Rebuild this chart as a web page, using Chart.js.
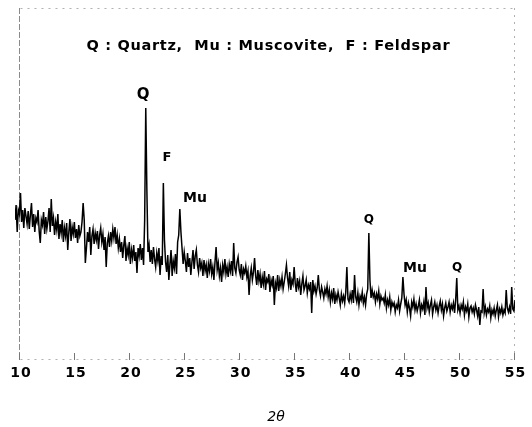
<!DOCTYPE html>
<html>
<head>
<meta charset="utf-8">
<script src="https://cdn.jsdelivr.net/npm/chart.js@4.4.0/dist/chart.umd.min.js"></script>
<style>
  html, body { margin: 0; padding: 0; background: #fff; }
  canvas { display: block; }
</style>
</head>
<body>
<canvas id="xrdChart" width="532" height="427"></canvas>
<script>
// scan grid (degrees 2θ) and counts, one row per degree
const startAngle = 9.5;
const stepAngle = 0.1;
const intensity = [
  140, 155, 128, 150, 146,
  167, 138, 150, 132, 152, 144, 136, 149, 131, 145,
  157, 133, 146, 128, 142, 138, 150, 129, 117, 140,
  135, 148, 126, 143, 131, 139, 152, 128, 161, 134,
  142, 125, 138, 130, 146, 121, 136, 127, 140, 118,
  132, 124, 137, 110, 128, 141, 119, 133, 126, 138,
  122, 131, 117, 135, 124, 128, 138, 157, 140, 97,
  112, 128, 118, 133, 105, 124, 131, 116, 127, 120,
  129, 111, 125, 132, 118, 126, 110, 123, 93, 117,
  124, 113, 128, 119, 131, 122, 133, 116, 125, 112,
  121, 108, 118, 102, 115, 124, 99, 112, 105, 118,
  96, 110, 102, 115, 99, 108, 87, 112, 104, 116,
  100, 112, 95, 140, 252, 170, 108, 115, 98, 110,
  96, 113, 101, 93, 107, 99, 112, 85, 104, 95,
  177, 120, 98, 88, 105, 80, 96, 110, 84, 99,
  92, 106, 86, 118, 125, 151, 128, 112, 96, 108,
  99, 88, 107, 93, 102, 85, 98, 110, 91, 104,
  110, 95, 88, 102, 92, 97, 84, 100, 89, 95,
  82, 96, 89, 101, 86, 93, 80, 98, 113, 90,
  97, 84, 92, 78, 95, 88, 101, 86, 93, 83,
  96, 89, 99, 84, 117, 92, 87, 98, 103, 90,
  85, 96, 80, 91, 87, 94, 83, 89, 65, 84,
  92, 80, 88, 102, 84, 75, 90, 79, 86, 72,
  83, 76, 89, 70, 81, 78, 86, 68, 80, 75,
  84, 55, 77, 72, 85, 69, 80, 74, 83, 71,
  78, 86, 95, 82, 74, 88, 70, 80, 76, 93,
  77, 68, 82, 73, 79, 65, 76, 84, 70, 74,
  80, 67, 75, 71, 78, 47, 80, 69, 74, 66,
  72, 85, 70, 64, 73, 68, 62, 71, 66, 74,
  63, 70, 58, 67, 61, 72, 56, 65, 60, 68,
  62, 55, 66, 59, 64, 57, 68, 93, 61, 58,
  66, 60, 70, 57, 85, 63, 58, 67, 55, 64,
  60, 68, 57, 63, 55, 66, 71, 127, 80, 62,
  70, 63, 67, 58, 66, 61, 69, 56, 64, 60,
  62, 57, 65, 52, 60, 55, 63, 50, 58, 54,
  57, 48, 55, 52, 60, 49, 56, 62, 83, 66,
  55, 60, 48, 57, 52, 44, 58, 53, 61, 50,
  56, 49, 54, 60, 47, 55, 51, 58, 45, 73,
  52, 57, 48, 55, 60, 46, 53, 58, 50, 55,
  47, 54, 59, 50, 56, 44, 52, 57, 49, 53,
  58, 48, 55, 51, 57, 47, 60, 82, 50, 54,
  47, 55, 51, 58, 45, 53, 49, 56, 43, 52,
  54, 48, 52, 46, 55, 50, 44, 53, 35, 49,
  48, 71, 47, 53, 45, 51, 48, 54, 42, 50,
  46, 52, 44, 50, 55, 43, 51, 47, 53, 45,
  50, 47, 70, 52, 48, 53, 46, 73, 51, 49,
  60
];
const tickAngles = [10, 15, 20, 25, 30, 35, 40, 45, 50, 55];

// phase labels: position given in data units (angle, intensity)
const peakLabels = [
  { angle: 21.15, value: 265, text: 'Q',  size: 15 },
  { angle: 23.33, value: 202, text: 'F',  size: 13 },
  { angle: 25.88, value: 162, text: 'Mu', size: 14 },
  { angle: 41.71, value: 140, text: 'Q',  size: 12 },
  { angle: 45.9,  value: 92,  text: 'Mu', size: 14 },
  { angle: 49.72, value: 92,  text: 'Q',  size: 12 }
];
const legendText = 'Q : Quartz,  Mu : Muscovite,  F : Feldspar';
const axisTitle = '2\u03b8';

const points = intensity.map((v, i) => ({ x: startAngle + i * stepAngle, y: v }));

// spaced-out text, centred on x
function spacedText(ctx, text, x, y, spacing) {
  ctx.letterSpacing = spacing + 'px';
  ctx.fillText(text, x + spacing / 2, y);
  ctx.letterSpacing = '0px';
}

const framePlugin = {
  id: 'frame',
  beforeDatasetsDraw(chart) {
    const { ctx, chartArea: a, scales } = chart;
    const x10 = scales.x.getPixelForValue(10);
    ctx.save();
    ctx.lineWidth = 1;
    ctx.strokeStyle = '#8a8a8a';
    ctx.setLineDash([6, 2]);
    ctx.beginPath();
    ctx.moveTo(Math.round(x10) - 0.5, a.top);
    ctx.lineTo(Math.round(x10) - 0.5, a.bottom);
    ctx.stroke();
    ctx.strokeStyle = '#b0b0b0';
    ctx.setLineDash([2, 5]);
    ctx.beginPath();
    ctx.moveTo(x10, a.top + 0.5);
    ctx.lineTo(a.right, a.top + 0.5);
    ctx.moveTo(a.right - 0.5, a.top);
    ctx.lineTo(a.right - 0.5, a.bottom);
    ctx.moveTo(x10, a.bottom - 0.5);
    ctx.lineTo(a.right, a.bottom - 0.5);
    ctx.stroke();
    ctx.setLineDash([]);
    ctx.strokeStyle = '#777';
    tickAngles.forEach(t => {
      const px = Math.round(scales.x.getPixelForValue(t)) - 0.5;
      ctx.beginPath();
      ctx.moveTo(px, a.bottom);
      ctx.lineTo(px, a.bottom - 7);
      ctx.stroke();
    });
    ctx.restore();
  },
  afterDraw(chart) {
    const { ctx, chartArea: a, scales } = chart;
    ctx.save();
    ctx.fillStyle = '#000';
    ctx.textAlign = 'center';
    ctx.textBaseline = 'middle';
    ctx.font = 'bold 14.5px "DejaVu Sans"';
    spacedText(ctx, legendText, (a.left + a.right) / 2 + 3, a.top + 38, 0.7);
    peakLabels.forEach(p => {
      ctx.font = 'bold ' + p.size + 'px "DejaVu Sans"';
      ctx.fillText(p.text, scales.x.getPixelForValue(p.angle), scales.y.getPixelForValue(p.value));
    });
    ctx.font = 'bold 14px "DejaVu Sans"';
    tickAngles.forEach(t => {
      spacedText(ctx, String(t), scales.x.getPixelForValue(t), a.bottom + 13, 1);
    });
    ctx.font = 'italic 14px "DejaVu Sans"';
    ctx.fillText(axisTitle, (a.left + a.right) / 2 + 11, 417);
    ctx.restore();
  }
};

new Chart(document.getElementById('xrdChart'), {
  type: 'line',
  data: {
    datasets: [{
      data: points,
      borderColor: '#000',
      borderWidth: 1.5,
      pointRadius: 0,
      tension: 0,
      fill: false
    }]
  },
  options: {
    responsive: false,
    animation: false,
    devicePixelRatio: 1,
    layout: { padding: { left: 15, right: 17, top: 8, bottom: 0 } },
    plugins: { legend: { display: false }, tooltip: { enabled: false } },
    scales: {
      x: {
        type: 'linear',
        min: 9.5,
        max: 55,
        afterBuildTicks: scale => { scale.ticks = tickAngles.map(v => ({ value: v })); },
        afterFit: scale => { scale.height = 67; },
        grid: { display: false, drawTicks: false },
        border: { display: false },
        ticks: { display: false }
      },
      y: {
        display: false,
        min: 0,
        max: 352
      }
    }
  },
  plugins: [framePlugin]
});
</script>
</body>
</html>
